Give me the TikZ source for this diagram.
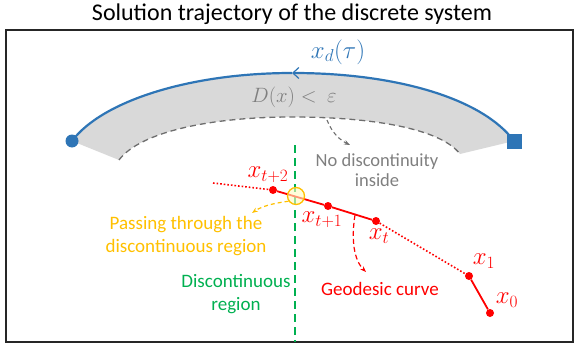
\documentclass[tikz,border=0pt]{standalone}
\usepackage{amsmath}
\usepackage{fontspec}
\setmainfont{Carlito}
\usepackage{tikz}
\usetikzlibrary{arrows.meta, positioning}
\definecolor{trajblue}{HTML}{2E75B6}
\definecolor{passorange}{HTML}{FFC000}
\definecolor{discgreen}{HTML}{00B050}
\definecolor{regiongray}{HTML}{D9D9D9}
\definecolor{textgray}{HTML}{7F7F7F}
\definecolor{linegray}{HTML}{6E6E6E}
\definecolor{geored}{HTML}{FF0000}
\begin{document}
\begin{tikzpicture}[x=1pt, y=-1pt,
    point/.style={circle, fill=geored, inner sep=0, minimum size=8},
    mathlabel/.style={text=geored, inner sep=0, font=\fontsize{24}{28}\selectfont},
    note/.style={align=center, inner sep=0, font=\fontsize{19}{23}\selectfont},
    every edge/.style={draw, -stealth}
  ]
    \def\edgewidth{1.3}
  \useasboundingbox (0,0) rectangle (581,345);
  \node[inner sep=0, font=\fontsize{24}{28}\selectfont] (title) at (292,14) {Solution trajectory of the discrete system};
  \draw[line width=1.6, black!85] (6,30) rectangle (573,342);

  % region where D(x) < eps
  \coordinate (start) at (72,141);
  \coordinate (goal) at (514,141);
  \coordinate (top) at (292,73);
  \coordinate (inL) at (119,160);
  \coordinate (inR) at (460,154);
  \coordinate (intop) at (292,117);
  \fill[regiongray] (start) .. controls (102,101) and (190,73) .. (top)
     .. controls (395,73) and (482,98) .. (goal) -- (inR)
     .. controls (440,128) and (370,117) .. (intop)
     .. controls (210,117) and (140,132) .. (inL) -- cycle;
  \draw[linegray, dashed, dash pattern=on 6 off 4, line width=\edgewidth] (inL) .. controls (140,132) and (210,117) .. (intop) .. controls (370,117) and (440,128) .. (inR);
  \draw[trajblue, line width=2.2, -{Straight Barb[length=6, width=11, line width=1.2]}] (goal) .. controls (482,98) and (395,73) .. (top);
  \draw[trajblue, line width=2.2] (top) .. controls (190,73) and (102,101) .. (start);
  \node[circle, fill=trajblue, inner sep=0, minimum size=13] (startpt) at (start) {};
  \node[fill=trajblue, inner sep=0, minimum size=15] (goalpt) at (goal) {};
  \node[text=trajblue, inner sep=0, font=\fontsize{26}{30}\selectfont] (xd) at (338,52) {$x_d(\tau)$};
  \node[text=textgray, inner sep=0, font=\fontsize{21}{25}\selectfont] (D) at (294,97) {$D(x) <\ \varepsilon$};

  \node[note, text=textgray, font=\fontsize{18.5}{20}\selectfont] (nodisc) at (377,170) {No discontinuity\\inside};
  \draw[linegray, dashed, dash pattern=on 4 off 3, line width=1.1, -{Stealth[length=6]}] (327,120) .. controls (332,133) and (340,140) .. (350,145);

  % discontinuous region
  \coordinate (gtop) at (295,145);
  \coordinate (gbot) at (295,342);
  \draw[discgreen, line width=2.6, dash pattern=on 8 off 5] (gtop) -- (gbot);
  \node[note, text=discgreen] (disc) at (236,294) {Discontinuous\\region};

  % discrete solution
  \coordinate (tail) at (213,183);
  \node[point] (xt2) at (273,190) {};
  \node[point] (xt1) at (328,206) {};
  \node[point] (xt) at (376,221) {};
  \node[point] (x1) at (469,276) {};
  \node[point] (x0) at (490,313) {};
  \draw[geored, line width=1.6, dotted] (tail) -- (xt2);
  \draw[geored, line width=1.8] (xt2) -- (xt1) -- (xt);
  \draw[geored, line width=1.6, dotted] (xt) -- (x1);
  \draw[geored, line width=1.8] (x1) -- (x0);
  \node[mathlabel] at (268,175) {$x_{t+2}$};
  \node[mathlabel] at (322,220) {$x_{t+1}$};
  \node[mathlabel] at (379,236) {$x_t$};
  \node[mathlabel] at (484,261) {$x_1$};
  \node[mathlabel] at (507,300) {$x_0$};

  \node[circle, draw=passorange, line width=1.3, fill=yellow!25, fill opacity=0.6, inner sep=0, minimum size=17] (cross) at (296,196) {};
  \draw[passorange, dashed, dash pattern=on 4 off 3, line width=1.2, -{Stealth[length=6]}] (cross.215) .. controls (275,203) and (262,206) .. (252,213);
  \node[note, text=passorange] (pass) at (186,236) {Passing through the\\discontinuous region};

  \draw[geored, dashed, dash pattern=on 5 off 3, line width=1.2, -{Stealth[length=6]}] (355,215) .. controls (351,240) and (354,260) .. (366,272);
  \node[note, text=geored] (geo) at (380,289) {Geodesic curve};
  \end{tikzpicture}
\end{document}
